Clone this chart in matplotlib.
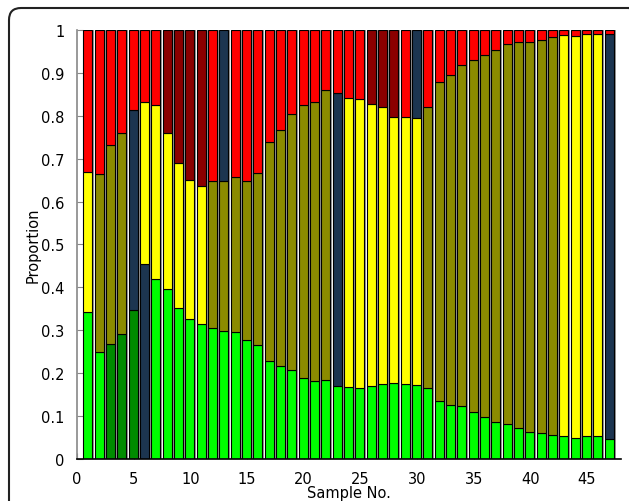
import numpy as np
import matplotlib
matplotlib.use('Agg')
import matplotlib.pyplot as plt
from matplotlib.patches import FancyBboxPatch
from matplotlib.transforms import IdentityTransform

# colour codes for segments
colors = {'g': '#00ff00', 'dg': '#008b00', 'y': '#ffff00', 'o': '#8b8b00',
          'n': '#1c3550', 'r': '#ff0000', 'dr': '#8b0000'}

samples = np.arange(1, 48)

# bottom segment: top value and colour
bottom_val = [0.342, 0.249, 0.268, 0.291, 0.347, 0.455, 0.420, 0.396, 0.353, 0.326,
              0.315, 0.305, 0.298, 0.296, 0.277, 0.266, 0.228, 0.217, 0.207, 0.188,
              0.182, 0.183, 0.170, 0.167, 0.166, 0.171, 0.175, 0.176, 0.175, 0.172,
              0.165, 0.134, 0.125, 0.124, 0.110, 0.099, 0.086, 0.081, 0.072, 0.064,
              0.060, 0.055, 0.053, 0.050, 0.054, 0.053, 0.047]
bottom_col = ['g', 'g', 'dg', 'dg', 'dg', 'n', 'g', 'g', 'g', 'g',
              'g', 'g', 'g', 'g', 'g', 'g', 'g', 'g', 'g', 'g',
              'g', 'g', 'g', 'g', 'g', 'g', 'g', 'g', 'g', 'g',
              'g', 'g', 'g', 'g', 'g', 'g', 'g', 'g', 'g', 'g',
              'g', 'g', 'g', 'g', 'g', 'g', 'g']

# middle segment: cumulative top value and colour
mid_val = [0.670, 0.664, 0.732, 0.759, 0.814, 0.831, 0.824, 0.760, 0.691, 0.650,
           0.636, 0.648, 0.648, 0.657, 0.648, 0.667, 0.738, 0.768, 0.804, 0.824,
           0.831, 0.859, 0.854, 0.841, 0.840, 0.827, 0.820, 0.796, 0.797, 0.795,
           0.821, 0.878, 0.894, 0.918, 0.929, 0.941, 0.954, 0.967, 0.971, 0.971,
           0.976, 0.983, 0.988, 0.985, 0.990, 0.990, 0.991]
mid_col = ['y', 'o', 'o', 'o', 'n', 'y', 'y', 'y', 'y', 'y',
           'y', 'o', 'o', 'o', 'o', 'o', 'o', 'o', 'o', 'o',
           'o', 'o', 'n', 'y', 'y', 'y', 'y', 'y', 'y', 'y',
           'o', 'o', 'o', 'o', 'o', 'o', 'o', 'o', 'o', 'o',
           'o', 'o', 'y', 'y', 'y', 'y', 'n']

# top segment colour (fills up to 1)
top_col = ['r', 'r', 'r', 'r', 'r', 'r', 'r', 'dr', 'dr', 'dr',
           'dr', 'r', 'n', 'r', 'r', 'r', 'r', 'r', 'r', 'r',
           'r', 'r', 'r', 'r', 'r', 'dr', 'dr', 'dr', 'r', 'n',
           'r', 'r', 'r', 'r', 'r', 'r', 'r', 'r', 'r', 'r',
           'r', 'r', 'r', 'r', 'r', 'r', 'r']

bottom_val = np.array(bottom_val)
mid_val = np.array(mid_val)

fig = plt.figure(figsize=(6.29, 5.02), dpi=100)
ax = fig.add_axes([0.1224, 0.0837, 0.8649, 0.8546])

w = 0.8
x = samples - 0.05
# gray shadow
ax.bar(x + 0.17, np.ones(len(x)), width=w, color='#999999', linewidth=0, zorder=1)
ax.bar(x, bottom_val, width=w, color=[colors[c] for c in bottom_col],
       edgecolor='black', linewidth=0.8, zorder=2)
ax.bar(x, mid_val - bottom_val, bottom=bottom_val, width=w,
       color=[colors[c] for c in mid_col], edgecolor='black', linewidth=0.8, zorder=2)
ax.bar(x, 1 - mid_val, bottom=mid_val, width=w,
       color=[colors[c] for c in top_col], edgecolor='black', linewidth=0.8, zorder=2)

ax.set_xlim(0, 48)
ax.set_ylim(0, 1)
ax.spines['top'].set_visible(False)
ax.spines['right'].set_visible(False)
ax.spines['left'].set_color('#888888')
ax.spines['left'].set_linewidth(1.2)
ax.spines['bottom'].set_linewidth(1.2)

ax.set_xticks(np.arange(0, 46, 5))
ax.set_yticks(np.arange(0, 1.01, 0.1))
ax.set_yticklabels(['0', '0.1', '0.2', '0.3', '0.4', '0.5', '0.6', '0.7', '0.8', '0.9', '1'])
ax.tick_params(direction='in', length=4, color='#888888', labelsize=10.5, pad=9)

ax.set_xlabel('Sample No.', fontsize=10.5, labelpad=-1)
ax.set_ylabel('Proportion', fontsize=10.5, labelpad=0)

frame = FancyBboxPatch((9, -30), 632, 493 + 30, boxstyle='round,pad=0,rounding_size=12',
                       transform=IdentityTransform(), fill=False,
                       edgecolor='#222222', linewidth=1.5)
fig.patches.append(frame)

fig.savefig('out.png', dpi=100)
